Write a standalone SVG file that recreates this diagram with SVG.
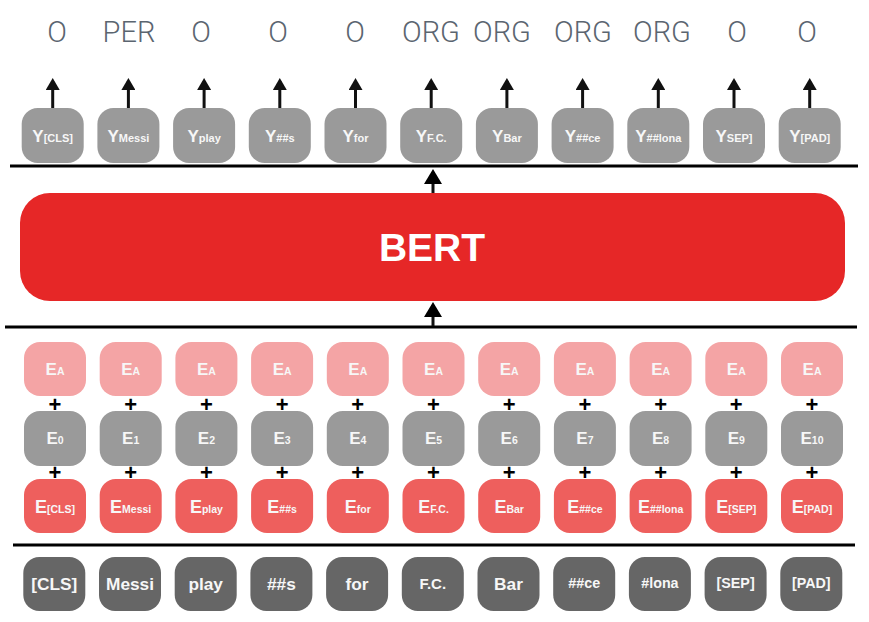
<svg xmlns="http://www.w3.org/2000/svg" width="869" height="622" viewBox="0 0 869 622">
<style>
.lab{font-family:Roboto,"Liberation Sans",sans-serif;font-weight:300;font-size:29px;fill:#5b6570;text-anchor:middle}
.bx{font-family:"Liberation Sans",Arial,sans-serif;font-weight:bold;fill:#f7f7f7;text-anchor:middle}
.big{font-size:17px}
.bigE{font-size:18px}
.sub{font-size:11px}
.subE{font-size:10.5px}
.yb{fill:#9a9a9a}
.ea{fill:#f4a4a5}
.ep{fill:#9a9a9a}
.et{fill:#ee5f5d}
.tk{fill:#666666}
.tkt{font-size:17.3px}
.tks{font-size:14.3px}
.plus{font-family:"Liberation Sans",Arial,sans-serif;font-weight:bold;font-size:22px;fill:#000;text-anchor:middle}
.sep{stroke:#000;stroke-width:3}
.arr{stroke:#111;stroke-width:3;fill:none}
</style>
<defs>
<marker id="ah" viewBox="0 0 12 14" refX="9" refY="7" markerWidth="12" markerHeight="14" markerUnits="userSpaceOnUse" orient="auto">
<path d="M0,0 L12,7 L0,14 z" fill="#111"/>
</marker>
<marker id="ahb" viewBox="0 0 15 18" refX="12" refY="9" markerWidth="15" markerHeight="18" markerUnits="userSpaceOnUse" orient="auto">
<path d="M0,0 L15,9 L0,18 z" fill="#000"/>
</marker>
</defs>
<rect width="869" height="622" fill="#fff"/>

<g id="labels">
<text class="lab" x="57" y="42">O</text>
<text class="lab" x="129" y="42">PER</text>
<text class="lab" x="201" y="42">O</text>
<text class="lab" x="278" y="42">O</text>
<text class="lab" x="355" y="42">O</text>
<text class="lab" x="431" y="42">ORG</text>
<text class="lab" x="502" y="42">ORG</text>
<text class="lab" x="583" y="42">ORG</text>
<text class="lab" x="662" y="42">ORG</text>
<text class="lab" x="737" y="42">O</text>
<text class="lab" x="807" y="42">O</text>
</g>

<g id="connectors">
<line class="sep" x1="10" y1="166" x2="858" y2="166"/>
<line class="sep" x1="5" y1="327" x2="857" y2="327"/>
<line class="sep" x1="13" y1="545" x2="855" y2="545"/>
<line class="arr" x1="52.7" y1="108" x2="52.7" y2="81" marker-end="url(#ah)"/>
<line class="arr" x1="128.4" y1="108" x2="128.4" y2="81" marker-end="url(#ah)"/>
<line class="arr" x1="204.1" y1="108" x2="204.1" y2="81" marker-end="url(#ah)"/>
<line class="arr" x1="279.8" y1="108" x2="279.8" y2="81" marker-end="url(#ah)"/>
<line class="arr" x1="355.5" y1="108" x2="355.5" y2="81" marker-end="url(#ah)"/>
<line class="arr" x1="431.2" y1="108" x2="431.2" y2="81" marker-end="url(#ah)"/>
<line class="arr" x1="506.9" y1="108" x2="506.9" y2="81" marker-end="url(#ah)"/>
<line class="arr" x1="582.6" y1="108" x2="582.6" y2="81" marker-end="url(#ah)"/>
<line class="arr" x1="658.3" y1="108" x2="658.3" y2="81" marker-end="url(#ah)"/>
<line class="arr" x1="734" y1="108" x2="734" y2="81" marker-end="url(#ah)"/>
<line class="arr" x1="809.7" y1="108" x2="809.7" y2="81" marker-end="url(#ah)"/>
<line class="arr" x1="433" y1="194" x2="433" y2="172" marker-end="url(#ahb)"/>
<line class="arr" x1="433" y1="326" x2="433" y2="305" marker-end="url(#ahb)"/>
</g>

<g id="y-row">
<g id="y0"><rect class="yb" x="21.7" y="108" width="62" height="55" rx="16"/><text class="bx big" x="52.7" y="142">Y<tspan class="sub">[CLS]</tspan></text></g>
<g id="y1"><rect class="yb" x="97.4" y="108" width="62" height="55" rx="16"/><text class="bx big" x="128.4" y="142">Y<tspan class="sub">Messi</tspan></text></g>
<g id="y2"><rect class="yb" x="173.1" y="108" width="62" height="55" rx="16"/><text class="bx big" x="204.1" y="142">Y<tspan class="sub">play</tspan></text></g>
<g id="y3"><rect class="yb" x="248.8" y="108" width="62" height="55" rx="16"/><text class="bx big" x="279.8" y="142">Y<tspan class="sub">##s</tspan></text></g>
<g id="y4"><rect class="yb" x="324.5" y="108" width="62" height="55" rx="16"/><text class="bx big" x="355.5" y="142">Y<tspan class="sub">for</tspan></text></g>
<g id="y5"><rect class="yb" x="400.2" y="108" width="62" height="55" rx="16"/><text class="bx big" x="431.2" y="142">Y<tspan class="sub">F.C.</tspan></text></g>
<g id="y6"><rect class="yb" x="475.9" y="108" width="62" height="55" rx="16"/><text class="bx big" x="506.9" y="142">Y<tspan class="sub">Bar</tspan></text></g>
<g id="y7"><rect class="yb" x="551.6" y="108" width="62" height="55" rx="16"/><text class="bx big" x="582.6" y="142">Y<tspan class="sub">##ce</tspan></text></g>
<g id="y8"><rect class="yb" x="627.3" y="108" width="62" height="55" rx="16"/><text class="bx big" x="658.3" y="142">Y<tspan class="sub">##lona</tspan></text></g>
<g id="y9"><rect class="yb" x="703" y="108" width="62" height="55" rx="16"/><text class="bx big" x="734" y="142">Y<tspan class="sub">SEP]</tspan></text></g>
<g id="y10"><rect class="yb" x="778.7" y="108" width="62" height="55" rx="16"/><text class="bx big" x="809.7" y="142">Y<tspan class="sub">[PAD]</tspan></text></g>
</g>

<g id="bert">
<rect x="20" y="193" width="825" height="108" rx="30" fill="#e62727"/>
<text x="432" y="261" font-family="'Liberation Sans',Arial,sans-serif" font-weight="bold" font-size="39" fill="#ffffff" text-anchor="middle">BERT</text>
</g>

<g id="ea-row">
<g id="ea0"><rect class="ea" x="24" y="342" width="62" height="54" rx="16"/><text class="bx big" x="55" y="375">E<tspan class="subE">A</tspan></text></g>
<g id="ea1"><rect class="ea" x="99.7" y="342" width="62" height="54" rx="16"/><text class="bx big" x="130.7" y="375">E<tspan class="subE">A</tspan></text></g>
<g id="ea2"><rect class="ea" x="175.4" y="342" width="62" height="54" rx="16"/><text class="bx big" x="206.4" y="375">E<tspan class="subE">A</tspan></text></g>
<g id="ea3"><rect class="ea" x="251.1" y="342" width="62" height="54" rx="16"/><text class="bx big" x="282.1" y="375">E<tspan class="subE">A</tspan></text></g>
<g id="ea4"><rect class="ea" x="326.8" y="342" width="62" height="54" rx="16"/><text class="bx big" x="357.8" y="375">E<tspan class="subE">A</tspan></text></g>
<g id="ea5"><rect class="ea" x="402.5" y="342" width="62" height="54" rx="16"/><text class="bx big" x="433.5" y="375">E<tspan class="subE">A</tspan></text></g>
<g id="ea6"><rect class="ea" x="478.2" y="342" width="62" height="54" rx="16"/><text class="bx big" x="509.2" y="375">E<tspan class="subE">A</tspan></text></g>
<g id="ea7"><rect class="ea" x="553.9" y="342" width="62" height="54" rx="16"/><text class="bx big" x="584.9" y="375">E<tspan class="subE">A</tspan></text></g>
<g id="ea8"><rect class="ea" x="629.6" y="342" width="62" height="54" rx="16"/><text class="bx big" x="660.6" y="375">E<tspan class="subE">A</tspan></text></g>
<g id="ea9"><rect class="ea" x="705.3" y="342" width="62" height="54" rx="16"/><text class="bx big" x="736.3" y="375">E<tspan class="subE">A</tspan></text></g>
<g id="ea10"><rect class="ea" x="781" y="342" width="62" height="54" rx="16"/><text class="bx big" x="812" y="375">E<tspan class="subE">A</tspan></text></g>
</g>

<g id="plus-row-1">
<text class="plus" x="55" y="411.5">+</text>
<text class="plus" x="130.7" y="411.5">+</text>
<text class="plus" x="206.4" y="411.5">+</text>
<text class="plus" x="282.1" y="411.5">+</text>
<text class="plus" x="357.8" y="411.5">+</text>
<text class="plus" x="433.5" y="411.5">+</text>
<text class="plus" x="509.2" y="411.5">+</text>
<text class="plus" x="584.9" y="411.5">+</text>
<text class="plus" x="660.6" y="411.5">+</text>
<text class="plus" x="736.3" y="411.5">+</text>
<text class="plus" x="812" y="411.5">+</text>
</g>

<g id="ep-row">
<g id="ep0"><rect class="ep" x="24" y="411" width="62" height="55" rx="16"/><text class="bx big" x="55" y="444">E<tspan class="subE">0</tspan></text></g>
<g id="ep1"><rect class="ep" x="99.7" y="411" width="62" height="55" rx="16"/><text class="bx big" x="130.7" y="444">E<tspan class="subE">1</tspan></text></g>
<g id="ep2"><rect class="ep" x="175.4" y="411" width="62" height="55" rx="16"/><text class="bx big" x="206.4" y="444">E<tspan class="subE">2</tspan></text></g>
<g id="ep3"><rect class="ep" x="251.1" y="411" width="62" height="55" rx="16"/><text class="bx big" x="282.1" y="444">E<tspan class="subE">3</tspan></text></g>
<g id="ep4"><rect class="ep" x="326.8" y="411" width="62" height="55" rx="16"/><text class="bx big" x="357.8" y="444">E<tspan class="subE">4</tspan></text></g>
<g id="ep5"><rect class="ep" x="402.5" y="411" width="62" height="55" rx="16"/><text class="bx big" x="433.5" y="444">E<tspan class="subE">5</tspan></text></g>
<g id="ep6"><rect class="ep" x="478.2" y="411" width="62" height="55" rx="16"/><text class="bx big" x="509.2" y="444">E<tspan class="subE">6</tspan></text></g>
<g id="ep7"><rect class="ep" x="553.9" y="411" width="62" height="55" rx="16"/><text class="bx big" x="584.9" y="444">E<tspan class="subE">7</tspan></text></g>
<g id="ep8"><rect class="ep" x="629.6" y="411" width="62" height="55" rx="16"/><text class="bx big" x="660.6" y="444">E<tspan class="subE">8</tspan></text></g>
<g id="ep9"><rect class="ep" x="705.3" y="411" width="62" height="55" rx="16"/><text class="bx big" x="736.3" y="444">E<tspan class="subE">9</tspan></text></g>
<g id="ep10"><rect class="ep" x="781" y="411" width="62" height="55" rx="16"/><text class="bx big" x="812" y="444">E<tspan class="subE">10</tspan></text></g>
</g>

<g id="plus-row-2">
<text class="plus" x="55" y="479.5">+</text>
<text class="plus" x="130.7" y="479.5">+</text>
<text class="plus" x="206.4" y="479.5">+</text>
<text class="plus" x="282.1" y="479.5">+</text>
<text class="plus" x="357.8" y="479.5">+</text>
<text class="plus" x="433.5" y="479.5">+</text>
<text class="plus" x="509.2" y="479.5">+</text>
<text class="plus" x="584.9" y="479.5">+</text>
<text class="plus" x="660.6" y="479.5">+</text>
<text class="plus" x="736.3" y="479.5">+</text>
<text class="plus" x="812" y="479.5">+</text>
</g>

<g id="et-row">
<g id="et0"><rect class="et" x="24" y="479" width="62" height="54" rx="16"/><text class="bx bigE" x="55" y="513">E<tspan class="subE">[CLS]</tspan></text></g>
<g id="et1"><rect class="et" x="99.7" y="479" width="62" height="54" rx="16"/><text class="bx bigE" x="130.7" y="513">E<tspan class="subE">Messi</tspan></text></g>
<g id="et2"><rect class="et" x="175.4" y="479" width="62" height="54" rx="16"/><text class="bx bigE" x="206.4" y="513">E<tspan class="subE">play</tspan></text></g>
<g id="et3"><rect class="et" x="251.1" y="479" width="62" height="54" rx="16"/><text class="bx bigE" x="282.1" y="513">E<tspan class="subE">##s</tspan></text></g>
<g id="et4"><rect class="et" x="326.8" y="479" width="62" height="54" rx="16"/><text class="bx bigE" x="357.8" y="513">E<tspan class="subE">for</tspan></text></g>
<g id="et5"><rect class="et" x="402.5" y="479" width="62" height="54" rx="16"/><text class="bx bigE" x="433.5" y="513">E<tspan class="subE">F.C.</tspan></text></g>
<g id="et6"><rect class="et" x="478.2" y="479" width="62" height="54" rx="16"/><text class="bx bigE" x="509.2" y="513">E<tspan class="subE">Bar</tspan></text></g>
<g id="et7"><rect class="et" x="553.9" y="479" width="62" height="54" rx="16"/><text class="bx bigE" x="584.9" y="513">E<tspan class="subE">##ce</tspan></text></g>
<g id="et8"><rect class="et" x="629.6" y="479" width="62" height="54" rx="16"/><text class="bx bigE" x="660.6" y="513">E<tspan class="subE">##lona</tspan></text></g>
<g id="et9"><rect class="et" x="705.3" y="479" width="62" height="54" rx="16"/><text class="bx bigE" x="736.3" y="513">E<tspan class="subE">[SEP]</tspan></text></g>
<g id="et10"><rect class="et" x="781" y="479" width="62" height="54" rx="16"/><text class="bx bigE" x="812" y="513">E<tspan class="subE">[PAD]</tspan></text></g>
</g>

<g id="token-row">
<g id="t0"><rect class="tk" x="23.3" y="557" width="62" height="54" rx="16"/><text class="bx tkt" x="54.3" y="590">[CLS]</text></g>
<g id="t1"><rect class="tk" x="99" y="557" width="62" height="54" rx="16"/><text class="bx tkt" x="130" y="590">Messi</text></g>
<g id="t2"><rect class="tk" x="174.7" y="557" width="62" height="54" rx="16"/><text class="bx tkt" x="205.7" y="590">play</text></g>
<g id="t3"><rect class="tk" x="250.4" y="557" width="62" height="54" rx="16"/><text class="bx tkt" x="281.4" y="590">##s</text></g>
<g id="t4"><rect class="tk" x="326.1" y="557" width="62" height="54" rx="16"/><text class="bx tkt" x="357.1" y="590">for</text></g>
<g id="t5"><rect class="tk" x="401.8" y="557" width="62" height="54" rx="16"/><text class="bx" font-size="15" x="432.8" y="589">F.C.</text></g>
<g id="t6"><rect class="tk" x="477.5" y="557" width="62" height="54" rx="16"/><text class="bx tkt" x="508.5" y="590">Bar</text></g>
<g id="t7"><rect class="tk" x="553.2" y="557" width="62" height="54" rx="16"/><text class="bx tks" x="584.2" y="588">##ce</text></g>
<g id="t8"><rect class="tk" x="628.9" y="557" width="62" height="54" rx="16"/><text class="bx tks" x="659.9" y="588">#lona</text></g>
<g id="t9"><rect class="tk" x="704.6" y="557" width="62" height="54" rx="16"/><text class="bx tks" x="735.6" y="588">[SEP]</text></g>
<g id="t10"><rect class="tk" x="780.3" y="557" width="62" height="54" rx="16"/><text class="bx tks" x="811.3" y="588">[PAD]</text></g>
</g>
</svg>
